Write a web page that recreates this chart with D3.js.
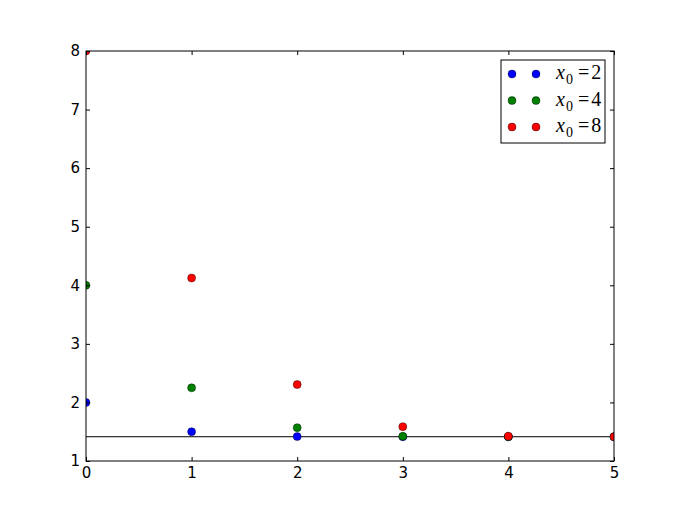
<!DOCTYPE html>
<html><head><meta charset="utf-8">
<script src="https://cdn.jsdelivr.net/npm/d3@7"></script>
<style>body{margin:0;background:#fff}svg{display:block}</style>
</head><body>
<script>
const iterations = [0, 1, 2, 3, 4, 5];
const seriesX2 = [2, 1.5, 1.416667, 1.414216, 1.414214, 1.414214];
const seriesX4 = [4, 2.25, 1.569444, 1.421890, 1.414234, 1.414214];
const seriesX8 = [8, 4.125, 2.304924, 1.586311, 1.423540, 1.414244];
const seriesLabels = ["2", "4", "8"];
const seriesColors = ["#0000ff", "#008000", "#ff0000"];
const sqrt2 = Math.SQRT2;
const xTicks = [0, 1, 2, 3, 4, 5];
const yTicks = [1, 2, 3, 4, 5, 6, 7, 8];

const W = 683, H = 512;
const m = {l: 86, r: 69, t: 51, b: 51};
const svg = d3.select("body").append("svg").attr("width", W).attr("height", H);
const x = d3.scaleLinear().domain([0, 5]).range([m.l, W - m.r]);
const y = d3.scaleLinear().domain([1, 8]).range([H - m.b, m.t]);

svg.append("defs").append("clipPath").attr("id", "clip")
  .append("rect").attr("x", m.l).attr("y", m.t)
  .attr("width", W - m.l - m.r).attr("height", H - m.t - m.b);

const plot = svg.append("g").attr("clip-path", "url(#clip)");
plot.append("line").attr("x1", x(0)).attr("x2", x(5))
  .attr("y1", y(sqrt2)).attr("y2", y(sqrt2))
  .attr("stroke", "#000").attr("stroke-width", 1);

const R = 4;
const allSeries = [seriesX2, seriesX4, seriesX8];
allSeries.forEach((s, i) => {
  plot.selectAll(null).data(s).enter().append("circle")
    .attr("cx", (d, j) => x(iterations[j])).attr("cy", d => y(d))
    .attr("r", R).attr("fill", seriesColors[i])
    .attr("stroke", "#000").attr("stroke-width", 0.4);
});

// frame
svg.append("rect").attr("x", m.l).attr("y", m.t)
  .attr("width", W - m.l - m.r).attr("height", H - m.t - m.b)
  .attr("fill", "none").attr("stroke", "#000").attr("stroke-width", 1);

const tl = 4;
const axB = svg.append("g").attr("transform", `translate(0,${H - m.b})`)
  .call(d3.axisBottom(x).tickValues(xTicks).tickSize(-tl).tickPadding(6).tickFormat(d3.format("d")));
const axT = svg.append("g").attr("transform", `translate(0,${m.t})`)
  .call(d3.axisTop(x).tickValues(xTicks).tickSize(-tl).tickFormat(""));
const axL = svg.append("g").attr("transform", `translate(${m.l},0)`)
  .call(d3.axisLeft(y).tickValues(yTicks).tickSize(-tl).tickPadding(6).tickFormat(d3.format("d")));
const axR = svg.append("g").attr("transform", `translate(${W - m.r},0)`)
  .call(d3.axisRight(y).tickValues(yTicks).tickSize(-tl).tickFormat(""));
[axB, axT, axL, axR].forEach(a => {
  a.select(".domain").remove();
  a.selectAll("line").attr("stroke", "#000");
  a.selectAll("text").attr("font-family", "DejaVu Sans").attr("font-size", 15).attr("fill", "#000");
});

// legend
const lg = svg.append("g");
lg.append("rect").attr("x", 501).attr("y", 60).attr("width", 104).attr("height", 83)
  .attr("fill", "#fff").attr("stroke", "#000").attr("stroke-width", 1);
seriesLabels.forEach((lab, i) => {
  const cy = 74 + i * 26.5;
  [512, 536].forEach(cx => {
    lg.append("circle").attr("cx", cx).attr("cy", cy).attr("r", R)
      .attr("fill", seriesColors[i]).attr("stroke", "#000").attr("stroke-width", 0.4);
  });
  const t = lg.append("text").attr("x", 556).attr("y", cy + 5)
    .attr("font-family", "Liberation Serif").attr("font-size", 20).attr("fill", "#000");
  t.append("tspan").attr("font-style", "italic").text("x");
  t.append("tspan").attr("font-size", 14).attr("dy", 5).attr("dx", 1).text("0");
  t.append("tspan").attr("dy", -5).attr("dx", 5).text("=");
  t.append("tspan").attr("dx", 2).text(lab);
});
</script>
</body></html>
